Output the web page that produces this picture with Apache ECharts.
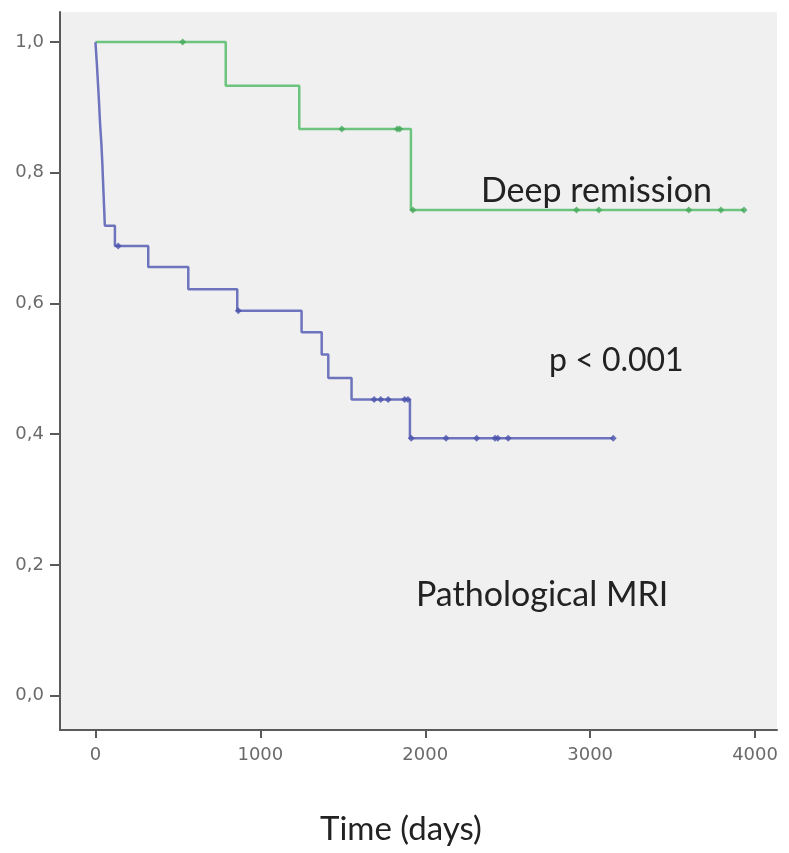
<!DOCTYPE html>
<html>
<head>
<meta charset="utf-8">
<script src="https://cdn.jsdelivr.net/npm/echarts@6/dist/echarts.min.js"></script>
<style>
html,body{margin:0;padding:0;background:#fff;}
#chart{width:789px;height:853px;}
</style>
</head>
<body>
<div id="chart"></div>
<script>
// Pathological MRI (blue): event times (days) and survival after each step
const blueTimes = [0, 8, 15, 22, 28, 36, 42, 47, 52, 57, 118, 320, 563, 860, 1250, 1372, 1412, 1553, 1907, 3140];
const blueSurv  = [1, 0.969, 0.938, 0.906, 0.875, 0.844, 0.813, 0.781, 0.75, 0.719, 0.688, 0.656, 0.622, 0.589, 0.556, 0.522, 0.486, 0.453, 0.394, 0.394];
// Pathological MRI censored marks
const blueCensTimes = [138, 866, 1690, 1730, 1775, 1875, 1895, 1915, 2126, 2312, 2423, 2440, 2503, 3140];
const blueCensSurv  = [0.688, 0.589, 0.453, 0.453, 0.453, 0.453, 0.453, 0.394, 0.394, 0.394, 0.394, 0.394, 0.394, 0.394];

// Deep remission (green)
const greenTimes = [0, 790, 1236, 1913, 3933];
const greenSurv  = [1, 0.933, 0.867, 0.743, 0.743];
const greenCensTimes = [529, 1494, 1830, 1845, 1925, 2917, 3053, 3598, 3793, 3933];
const greenCensSurv  = [1, 0.867, 0.867, 0.867, 0.743, 0.743, 0.743, 0.743, 0.743, 0.743];

// Axis ticks
const xTicks = [0, 1000, 2000, 3000, 4000];
const yTicks = [0, 0.2, 0.4, 0.6, 0.8, 1.0];

const zip = (a, b) => a.map((v, i) => [v, b[i]]);

const chart = echarts.init(document.getElementById('chart'), null, {renderer: 'canvas'});
const labelFont = 'DejaVu Sans';

chart.setOption({
  animation: false,
  backgroundColor: '#ffffff',
  grid: {
    left: 60, top: 12, right: 12, bottom: 123,
    show: true, backgroundColor: '#f0f0f0', borderWidth: 0
  },
  xAxis: {
    type: 'value', min: -215, max: 4133,
    axisLine: {show: true, onZero: false, lineStyle: {color: '#5a5a5a', width: 2}},
    axisTick: {show: true, customValues: xTicks, length: 8, lineStyle: {color: '#5a5a5a', width: 2}},
    axisLabel: {customValues: xTicks, color: '#6a6a6a', fontSize: 18, fontFamily: labelFont, margin: 16,
      formatter: v => String(v)},
    splitLine: {show: false}
  },
  yAxis: {
    type: 'value', min: -0.0525, max: 1.046,
    axisLine: {show: true, onZero: false, lineStyle: {color: '#5a5a5a', width: 2}},
    axisTick: {show: true, customValues: yTicks, length: 10, lineStyle: {color: '#5a5a5a', width: 2}},
    axisLabel: {customValues: yTicks, color: '#6a6a6a', fontSize: 18, fontFamily: labelFont, margin: 16,
      formatter: v => v.toFixed(1).replace('.', ',')},
    splitLine: {show: false}
  },
  series: [
    {
      type: 'line', step: 'end', data: zip(greenTimes, greenSurv),
      showSymbol: false, lineStyle: {color: '#6cc47e', width: 2.5}, z: 2
    },
    {
      type: 'line', step: 'end', data: zip(blueTimes, blueSurv),
      showSymbol: false, lineStyle: {color: '#6d74bd', width: 2.5}, z: 3
    },
    {
      type: 'scatter', data: zip(greenCensTimes, greenCensSurv),
      symbol: 'diamond', symbolSize: 7, itemStyle: {color: '#46a95c'}, z: 4
    },
    {
      type: 'scatter', data: zip(blueCensTimes, blueCensSurv),
      symbol: 'diamond', symbolSize: 7, itemStyle: {color: '#4b54ad'}, z: 4
    }
  ],
  graphic: [
    {type: 'text', left: 481, top: 174, style: {text: 'Deep remission', font: '34px Lato', fill: '#222'}},
    {type: 'text', left: 549, top: 345, style: {text: 'p < 0.001', font: '32px Lato', fill: '#222'}},
    {type: 'text', left: 416, top: 578, style: {text: 'Pathological MRI', font: '34px Lato', fill: '#222'}},
    {type: 'text', left: 320, top: 813, style: {text: 'Time (days)', font: '33px Lato', fill: '#222'}}
  ]
});
</script>
</body>
</html>
